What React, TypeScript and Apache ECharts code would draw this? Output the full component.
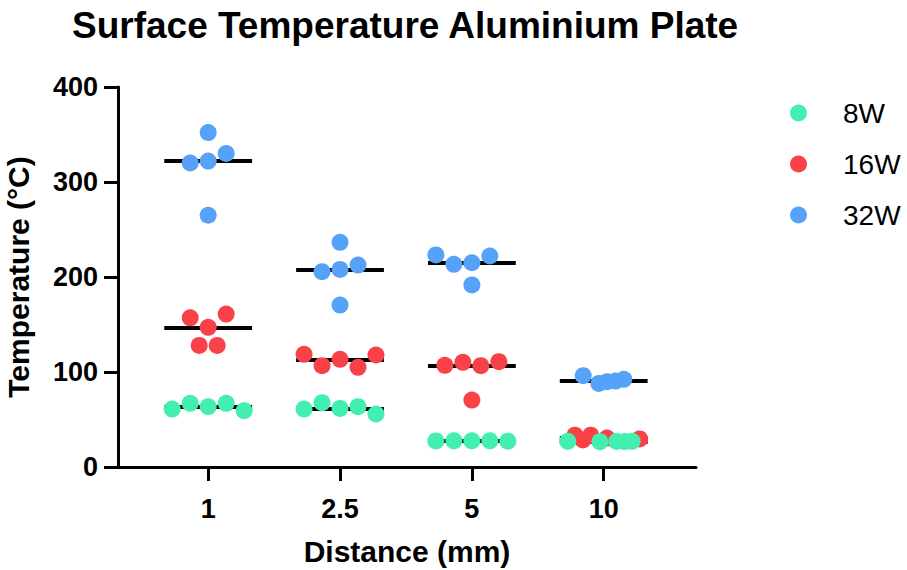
import React, { useEffect, useRef } from "react";
import * as echarts from "echarts";

const categories = ["1", "2.5", "5", "10"];
const seriesNames = ["8W", "16W", "32W"];

// Temperature values (°C) per distance category
const values8W = [
  [61, 67, 63.5, 67, 59.3],
  [61, 67.7, 61.7, 63.5, 55.8],
  [27.4, 27.6, 27.5, 27.6, 27.2],
  [27.0, 26.6, 26.9, 26.8, 27.0],
];
const values16W = [
  [157, 161, 147, 128, 128],
  [118.6, 106.7, 113.4, 104.9, 117.9],
  [107, 110.2, 106.7, 110.9, 70.5],
  [33.5, 28.5, 33.5, 30.5, 29.5],
];
const values32W = [
  [352, 330, 322, 320, 265],
  [236.5, 212.6, 208, 205.6, 170.5],
  [223.2, 213.3, 215, 222.1, 191.6],
  [96.1, 88, 89.8, 90.5, 92.3],
];

// Horizontal swarm offsets (in dot widths)
const offsets8W = [
  [-2, -1, 0, 1, 2],
  [-2, -1, 0, 1, 2],
  [-2, -1, 0, 1, 2],
  [-2, -0.21, 0.72, 1.18, 1.58],
];
const offsets16W = [
  [-1, 1, 0, -0.5, 0.5],
  [-2, -1, 0, 1, 2],
  [-1.5, -0.5, 0.5, 1.5, 0],
  [-1.6, -1.16, -0.72, 0.18, 2.0],
];
const offsets32W = [
  [0, 1, 0, -1, 0],
  [0, 1, 0, -1, 0],
  [-2, -1, 0, 1, 0],
  [-1.14, -0.27, 0.19, 0.66, 1.12],
];

const yTicks = [0, 100, 200, 300, 400];

const COLORS: Record<string, string> = {
  "8W": "#42EEB0",
  "16W": "#F94247",
  "32W": "#56A2F8",
};

const DOT_STEP = 0.1364;
const MEDIAN_HALF = 0.333;
const FONT = "'Liberation Sans', Arial, Helvetica, sans-serif";

function median(arr: number[]): number {
  const s = [...arr].sort((a, b) => a - b);
  const m = Math.floor(s.length / 2);
  return s.length % 2 ? s[m] : (s[m - 1] + s[m]) / 2;
}

function points(vals: number[][], offs: number[][]) {
  const out: number[][] = [];
  vals.forEach((group, ci) => {
    group.forEach((v, i) => {
      out.push([ci + offs[ci][i] * DOT_STEP, v]);
    });
  });
  return out;
}

export default function App() {
  const ref = useRef<HTMLDivElement>(null);

  useEffect(() => {
    if (!ref.current) return;
    const chart = echarts.init(ref.current, undefined, { renderer: "svg" });

    const all = [
      { name: "8W", vals: values8W, offs: offsets8W },
      { name: "16W", vals: values16W, offs: offsets16W },
      { name: "32W", vals: values32W, offs: offsets32W },
    ];

    const medianLines: any[] = [];
    all.forEach((s) => {
      s.vals.forEach((group, ci) => {
        const m = median(group);
        medianLines.push({
          coords: [
            [ci - MEDIAN_HALF, m],
            [ci + MEDIAN_HALF, m],
          ],
        });
      });
    });

    const scatterSeries = [...all].reverse().map((s) => ({
      name: s.name,
      type: "scatter",
      data: points(s.vals, s.offs),
      symbol: "circle",
      symbolSize: 17,
      itemStyle: { color: COLORS[s.name], opacity: 1 },
      z: 3,
    }));

    chart.setOption({
      animation: false,
      backgroundColor: "#ffffff",
      title: {
        text: "Surface Temperature Aluminium Plate",
        left: 72,
        top: 7,
        padding: 0,
        textStyle: {
          fontFamily: FONT,
          fontSize: 37,
          fontWeight: "bold",
          color: "#000",
        },
      },
      legend: {
        data: seriesNames,
        orient: "vertical",
        left: 790,
        top: 99,
        padding: 0,
        itemWidth: 17,
        itemHeight: 17,
        itemGap: 23,
        icon: "circle",
        textStyle: {
          fontFamily: FONT,
          fontSize: 28,
          lineHeight: 28,
          color: "#000",
          padding: [0, 0, 0, 31],
        },
      },
      grid: {
        left: 118,
        right: 211,
        top: 87,
        bottom: 103,
        containLabel: false,
        outerBoundsMode: "none",
      },
      xAxis: {
        type: "value",
        min: -0.684,
        max: 3.7,
        name: "Distance (mm)",
        nameLocation: "middle",
        nameGap: 69,
        nameTextStyle: {
          fontFamily: FONT,
          fontSize: 30,
          fontWeight: "bold",
          color: "#000",
        },
        axisLine: { onZero: false, lineStyle: { color: "#000", width: 3 } },
        axisTick: {
          show: true,
          length: 14,
          lineStyle: { color: "#000", width: 3 },
          customValues: [0, 1, 2, 3],
        },
        axisLabel: {
          customValues: [0, 1, 2, 3],
          formatter: (v: number) => categories[Math.round(v)] ?? "",
          fontFamily: FONT,
          fontSize: 27,
          fontWeight: "bold",
          color: "#000",
          margin: 28,
        },
        splitLine: { show: false },
      },
      yAxis: {
        type: "value",
        min: yTicks[0],
        max: yTicks[yTicks.length - 1],
        interval: 100,
        name: "Temperature (°C)",
        nameLocation: "middle",
        nameGap: 85,
        nameTextStyle: {
          fontFamily: FONT,
          fontSize: 30,
          fontWeight: "bold",
          color: "#000",
        },
        axisLine: {
          show: true,
          onZero: false,
          lineStyle: { color: "#000", width: 3 },
        },
        axisTick: {
          show: true,
          length: 14,
          lineStyle: { color: "#000", width: 3 },
        },
        axisLabel: {
          fontFamily: FONT,
          fontSize: 27,
          fontWeight: "bold",
          color: "#000",
          margin: 20,
        },
        splitLine: { show: false },
      },
      series: [
        {
          type: "lines",
          coordinateSystem: "cartesian2d",
          data: medianLines,
          lineStyle: { color: "#000", width: 4, opacity: 1 },
          z: 2,
          silent: true,
        },
        ...scatterSeries,
      ],
    });

    return () => chart.dispose();
  }, []);

  return (
    <div
      ref={ref}
      style={{ position: "fixed", left: 0, top: 0, width: 907, height: 570 }}
    />
  );
}
